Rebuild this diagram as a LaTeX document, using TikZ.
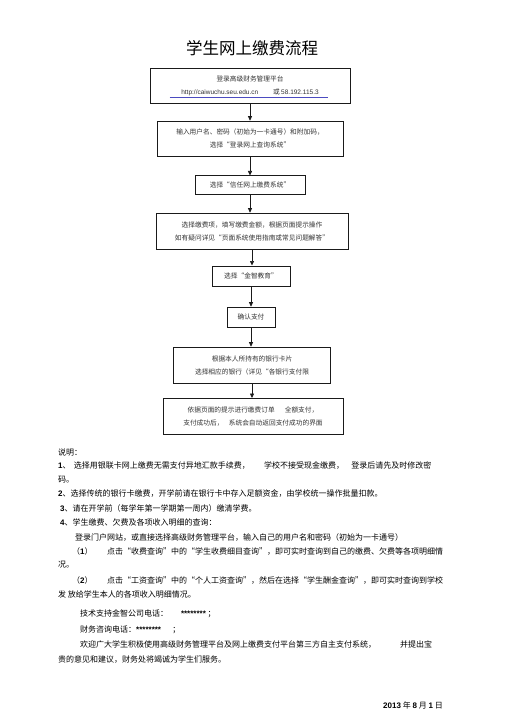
\documentclass[tikz,border=0pt]{standalone}
\usepackage{fontspec}
\setmainfont{Noto Sans CJK SC}
\newfontfamily\numfont{Liberation Sans}
\usetikzlibrary{arrows.meta,positioning,calc}
\definecolor{cLine}{HTML}{1A1A1A}
\definecolor{cText}{HTML}{333333}
\definecolor{cLink}{HTML}{4B4BC0}
\tikzset{
  box/.style={draw=cLine, line width=#1, fill=white, text=cText, align=center,
              font=\fontsize{6.7}{13}\selectfont, inner sep=2pt},
  box/.default=0.6pt,
  flow/.style={-{Triangle[length=4.5pt,width=4pt]}, line width=0.7pt, draw=cLine},
  note/.style={anchor=west, inner sep=0pt, font=\fontsize{8}{10}\selectfont, text=black},
}
\newcommand{\bnum}[1]{{\numfont\bfseries #1}}
\newcommand{\urltext}[1]{{\numfont\fontsize{6.5}{13}\selectfont #1}}
\begin{document}
\begin{tikzpicture}[x=1pt,y=-1pt]
\useasboundingbox[fill=white] (0,0) rectangle (505,714);
\node[font=\fontsize{16.5}{18}\selectfont, text=black] (title) at (252,48) {学生网上缴费流程};
% flow chart
\node[box, minimum width=200pt, minimum height=35pt] (login) at (250,85.5)
  {登录高级财务管理平台\\\urltext{http://caiwuchu.seu.edu.cn}\hspace{2.2em}或 \urltext{58.192.115.3}};
\draw[cLink, line width=0.6pt] ($(login.south west)+(20,-6)$) -- ($(login.south east)+(-22,-6)$);
\node[box, minimum width=186pt, minimum height=35pt] (input) at (250,138.5)
  {输入用户名、密码（初始为一卡通号）和附加码，\\选择“登录网上查询系统”};
\node[box=1pt, minimum width=110pt, minimum height=18pt] (trust) at (250,185)
  {选择“信任网上缴费系统”};
\node[box, minimum width=192pt, minimum height=36pt] (fill) at (252,231)
  {选择缴费项，填写缴费金额，根据页面提示操作\\如有疑问详见“页面系统使用指南或常见问题解答”};
\node[box=1pt, minimum width=78pt, minimum height=20pt] (jinzhi) at (251,276)
  {选择“金智教育”};
\node[box, minimum width=48pt, minimum height=20pt] (confirm) at (251,317)
  {确认支付};
\node[box, minimum width=157pt, minimum height=36pt] (bank) at (252,365)
  {根据本人所持有的银行卡片\\选择相应的银行（详见“各银行支付限};
\node[box=1pt, minimum width=180pt, minimum height=36pt] (result) at (253,416.5)
  {依据页面的提示进行缴费订单\hspace{1.5em}全额支付，\\支付成功后，\hspace{0.8em}系统会自动返回支付成功的界面};
\draw[flow] (login.south) -- (login.south|-input.north);
\draw[flow] (input.south) -- (input.south|-trust.north);
\draw[flow] (trust.south) -- (trust.south|-fill.north);
\draw[flow] (fill.south) -- (fill.south|-jinzhi.north);
\draw[flow] (jinzhi.south) -- (jinzhi.south|-confirm.north);
\draw[flow] (confirm.south) -- (confirm.south|-bank.north);
\draw[flow] (bank.south) -- (bank.south|-result.north);
% notes
\node[note] (n0) at (58,452) {说明：};
\node[note] (n1) at (58,466) {\bnum{1}、\hspace{0.4em}选择用银联卡网上缴费无需支付异地汇款手续费，\hspace{1.8em}学校不接受现金缴费，\hspace{0.9em}登录后请先及时修改密};
\node[note] (n1b) at (58,479.5) {码。};
\node[note] (n2) at (58,494) {\bnum{2}、选择传统的银行卡缴费，开学前请在银行卡中存入足额资金，由学校统一操作批量扣款。};
\node[note] (n3) at (60,508) {\bnum{3}、请在开学前（每学年第一学期第一周内）缴清学费。};
\node[note] (n4) at (60,522.5) {\bnum{4}、学生缴费、欠费及各项收入明细的查询：};
\node[note] (n4a) at (75,537) {登录门户网站，或直接选择高级财务管理平台，输入自己的用户名和密码（初始为一卡通号）};
\node[note] (n4b) at (72,551) {（\bnum{1}）\hspace{1.8em}点击“收费查询”中的“学生收费细目查询”，即可实时查询到自己的缴费、欠费等各项明细情};
\node[note] (n4c) at (58,565) {况。};
\node[note] (n4d) at (72,580.5) {（\bnum{2}）\hspace{1.8em}点击“工资查询”中的“个人工资查询”，然后在选择“学生酬金查询”，即可实时查询到学校};
\node[note] (n4e) at (58,594.5) {发 放给学生本人的各项收入明细情况。};
\node[note] (tel1) at (80,614) {技术支持金智公司电话：\hspace{1.6em}\bnum{********} ；};
\node[note] (tel2) at (80,629.5) {财务咨询电话：\bnum{********}\hspace{1.4em}；};
\node[note] (thx1) at (80,645) {欢迎广大学生积极使用高级财务管理平台及网上缴费支付平台第三方自主支付系统，\hspace{3em}并提出宝};
\node[note] (thx2) at (58,659.5) {贵的意见和建议，财务处将竭诚为学生们服务。};
\node[note] (date) at (383,705) {\bnum{2013} 年 \bnum{8} 月 \bnum{1} 日};
\end{tikzpicture}
\end{document}
